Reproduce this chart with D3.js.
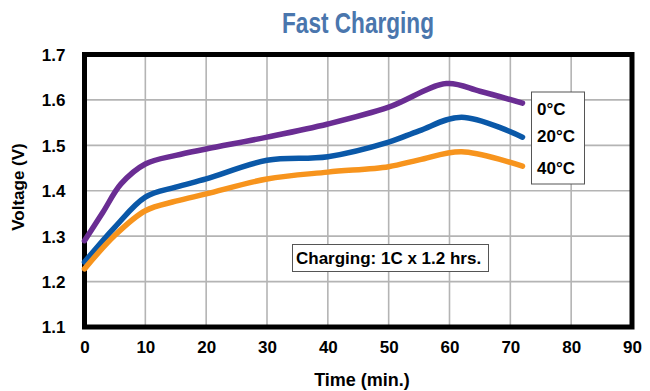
<!DOCTYPE html>
<html>
<head>
<meta charset="utf-8">
<script src="https://cdn.jsdelivr.net/npm/d3@7/dist/d3.min.js"></script>
<style>
  html, body { margin: 0; padding: 0; background: #fff; }
  svg { display: block; }
</style>
</head>
<body>
<svg id="chart" width="650" height="391"></svg>
<script>
// ---- data ----
const xTicks = [0, 10, 20, 30, 40, 50, 60, 70, 80, 90];
const yTicks = [1.1, 1.2, 1.3, 1.4, 1.5, 1.6, 1.7];
const seriesNames = ["0°C", "20°C", "40°C"];
const time0  = [0, 3, 6, 10, 15, 20, 30, 40, 50, 59.5, 65, 72];
const volt0  = [1.290, 1.352, 1.415, 1.459, 1.478, 1.492, 1.518, 1.547, 1.584, 1.636, 1.619, 1.593];
const time20 = [0, 5, 10, 15, 20, 30, 40, 50, 55, 62, 72];
const volt20 = [1.243, 1.320, 1.386, 1.408, 1.426, 1.467, 1.475, 1.507, 1.532, 1.562, 1.518];
const time40 = [0, 5, 10, 15, 20, 30, 40, 50, 55, 62, 72];
const volt40 = [1.228, 1.302, 1.356, 1.377, 1.393, 1.426, 1.441, 1.453, 1.468, 1.486, 1.454];
const colors = ["#6a2d93", "#0a58a8", "#f7941d"];

const svg = d3.select("#chart");
const font = "'Liberation Sans', Arial, Helvetica, sans-serif";

const x = d3.scaleLinear().domain([0, 90]).range([84.5, 632]);
const y = d3.scaleLinear().domain([1.1, 1.7]).range([327, 54.5]);

// title
svg.append("text").attr("x", 358).attr("y", 33).attr("text-anchor", "middle")
  .attr("font-family", font).attr("font-size", 30).attr("font-weight", "bold")
  .attr("fill", "#4a76ad")
  .attr("textLength", 152).attr("lengthAdjust", "spacingAndGlyphs")
  .text("Fast Charging");

// gridlines
const grid = svg.append("g");
grid.selectAll("line.v").data(xTicks.slice(1, -1)).enter().append("line")
  .attr("x1", d => x(d)).attr("x2", d => x(d)).attr("y1", y(1.7)).attr("y2", y(1.1))
  .attr("stroke", "#b4b4b4").attr("stroke-width", 1.6);
grid.selectAll("line.h").data(yTicks.slice(1, -1)).enter().append("line")
  .attr("x1", x(0)).attr("x2", x(90)).attr("y1", d => y(d)).attr("y2", d => y(d))
  .attr("stroke", "#b4b4b4").attr("stroke-width", 1.6);

// frame
svg.append("rect").attr("x", x(0)).attr("y", y(1.7))
  .attr("width", x(90) - x(0)).attr("height", y(1.1) - y(1.7))
  .attr("fill", "none").attr("stroke", "#000").attr("stroke-width", 5);

// axes labels via d3 axes
const xAxis = svg.append("g").attr("transform", `translate(0,${y(1.1) + 11})`)
  .call(d3.axisBottom(x).tickValues(xTicks).tickSize(0).tickFormat(d3.format("d")));
xAxis.select(".domain").remove();
xAxis.selectAll("text").attr("font-family", font).attr("font-size", 17)
  .attr("font-weight", "bold").attr("fill", "#000");

const yAxis = svg.append("g").attr("transform", `translate(${x(0) - 16},0)`)
  .call(d3.axisLeft(y).tickValues(yTicks).tickSize(0).tickFormat(d3.format(".1f")));
yAxis.select(".domain").remove();
yAxis.selectAll("text").attr("font-family", font).attr("font-size", 17)
  .attr("font-weight", "bold").attr("fill", "#000").attr("dy", "0.35em");

svg.append("text").attr("x", 362).attr("y", 386).attr("text-anchor", "middle")
  .attr("font-family", font).attr("font-size", 18).attr("font-weight", "bold")
  .text("Time (min.)");
svg.append("text").attr("transform", "translate(24,187) rotate(-90)")
  .attr("text-anchor", "middle").attr("font-family", font).attr("font-size", 17)
  .attr("font-weight", "bold").text("Voltage (V)");

// lines
const line = d3.line().x(d => x(d[0])).y(d => y(d[1])).curve(d3.curveCatmullRom.alpha(0.5));
const series = [d3.zip(time0, volt0), d3.zip(time20, volt20), d3.zip(time40, volt40)];
series.forEach((s, i) => {
  svg.append("path").datum(s).attr("d", line).attr("fill", "none")
    .attr("stroke", colors[i]).attr("stroke-width", 5.5)
    .attr("stroke-linecap", "round").attr("stroke-linejoin", "round");
});

// legend box
svg.append("rect").attr("x", 531.5).attr("y", 92).attr("width", 53).attr("height", 92)
  .attr("fill", "#fff").attr("stroke", "#555").attr("stroke-width", 1);
const legendY = [115, 142, 174];
seriesNames.forEach((n, i) => {
  svg.append("text").attr("x", 537).attr("y", legendY[i])
    .attr("font-family", font).attr("font-size", 17).attr("font-weight", "bold")
    .text(n);
});

// annotation
svg.append("rect").attr("x", 292.5).attr("y", 244.5).attr("width", 196).attr("height", 27)
  .attr("fill", "#fff").attr("stroke", "#555").attr("stroke-width", 1);
svg.append("text").attr("x", 296).attr("y", 264)
  .attr("font-family", font).attr("font-size", 17).attr("font-weight", "bold")
  .text("Charging: 1C x 1.2 hrs.");
</script>
</body>
</html>
